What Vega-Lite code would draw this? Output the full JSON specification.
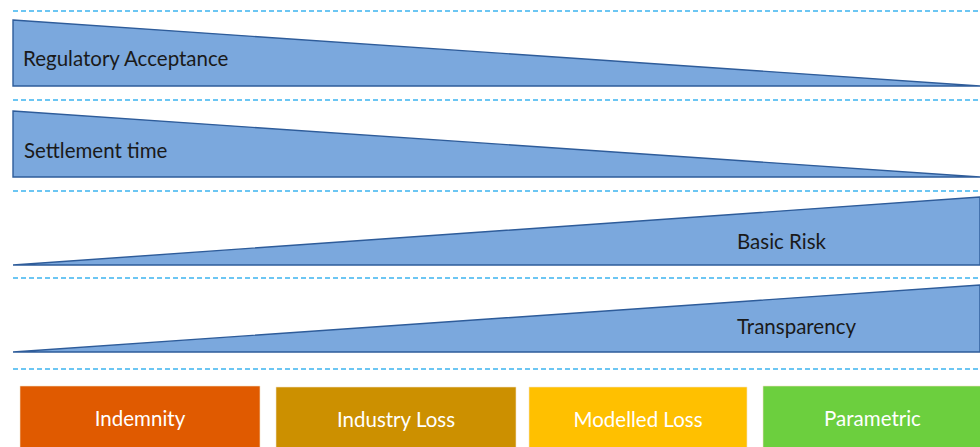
{
  "$schema": "https://vega.github.io/schema/vega-lite/v6.json",
  "width": 980,
  "height": 447,
  "autosize": {"type": "none"},
  "padding": 0,
  "background": "white",
  "config": {"view": {"stroke": null}},
  "datasets": {
    "wedges": [
      {"shape": "Regulatory Acceptance", "x": 13, "top": 20, "bottom": 86},
      {"shape": "Regulatory Acceptance", "x": 980, "top": 86, "bottom": 86},
      {"shape": "Settlement time", "x": 13, "top": 111, "bottom": 177},
      {"shape": "Settlement time", "x": 980, "top": 177, "bottom": 177},
      {"shape": "Basic Risk", "x": 13, "top": 265, "bottom": 265},
      {"shape": "Basic Risk", "x": 980, "top": 197, "bottom": 265},
      {"shape": "Transparency", "x": 13, "top": 352, "bottom": 352},
      {"shape": "Transparency", "x": 980, "top": 285, "bottom": 352}
    ],
    "dashes": [
      {"x": 13, "x2": 980, "y": 11},
      {"x": 13, "x2": 980, "y": 100},
      {"x": 13, "x2": 980, "y": 191},
      {"x": 13, "x2": 980, "y": 278},
      {"x": 13, "x2": 980, "y": 369}
    ],
    "labels": [
      {"label": "Regulatory Acceptance", "x": 23, "y": 58},
      {"label": "Settlement time", "x": 24, "y": 150},
      {"label": "Basic Risk", "x": 737, "y": 241},
      {"label": "Transparency", "x": 737, "y": 326}
    ],
    "boxes": [
      {"name": "Indemnity", "x": 20, "x2": 260, "y": 386, "y2": 450},
      {"name": "Industry Loss", "x": 276, "x2": 516, "y": 387, "y2": 450},
      {"name": "Modelled Loss", "x": 529, "x2": 747, "y": 387, "y2": 450},
      {"name": "Parametric", "x": 763, "x2": 982, "y": 386, "y2": 450}
    ]
  },
  "layer": [
    {
      "data": {"name": "dashes"},
      "mark": {"type": "rule", "stroke": "#3DB4F0", "strokeWidth": 1.5, "strokeDash": [5, 3]},
      "encoding": {
        "x": {"field": "x", "type": "quantitative", "scale": {"domain": [0, 980], "nice": false, "zero": false}, "axis": null},
        "x2": {"field": "x2"},
        "y": {"field": "y", "type": "quantitative", "scale": {"domain": [0, 447], "nice": false, "zero": false, "reverse": true}, "axis": null}
      }
    },
    {
      "data": {"name": "wedges"},
      "mark": {"type": "area", "fill": "#7BA8DD", "fillOpacity": 1, "stroke": "#2E5C9A", "strokeWidth": 1.4, "interpolate": "linear"},
      "encoding": {
        "x": {"field": "x", "type": "quantitative", "axis": null},
        "y": {"field": "top", "type": "quantitative", "axis": null},
        "y2": {"field": "bottom"},
        "detail": {"field": "shape", "type": "nominal"}
      }
    },
    {
      "data": {"name": "labels"},
      "mark": {"type": "text", "align": "left", "baseline": "middle", "font": "Lato", "fontSize": 20.5, "fill": "#1a1a1a", "dy": 2},
      "encoding": {
        "x": {"field": "x", "type": "quantitative", "axis": null},
        "y": {"field": "y", "type": "quantitative", "axis": null},
        "text": {"field": "label"}
      }
    },
    {
      "data": {"name": "boxes"},
      "mark": {"type": "rect", "strokeWidth": 1, "stroke": "#f3e3c8", "strokeOpacity": 0.6},
      "encoding": {
        "x": {"field": "x", "type": "quantitative", "axis": null},
        "x2": {"field": "x2"},
        "y": {"field": "y", "type": "quantitative", "axis": null},
        "y2": {"field": "y2"},
        "color": {
          "field": "name",
          "type": "nominal",
          "scale": {
            "domain": ["Indemnity", "Industry Loss", "Modelled Loss", "Parametric"],
            "range": ["#E05A00", "#CC9000", "#FFC000", "#6CCF3E"]
          },
          "legend": null
        }
      }
    },
    {
      "data": {"name": "boxes"},
      "transform": [{"calculate": "(datum.x + datum.x2) / 2", "as": "cx"}],
      "mark": {"type": "text", "align": "center", "baseline": "middle", "font": "Lato", "fontSize": 20.5, "fill": "white", "dy": 3},
      "encoding": {
        "x": {"field": "cx", "type": "quantitative", "axis": null},
        "y": {"field": "y", "type": "quantitative", "axis": null},
        "text": {"field": "name"},
        "yOffset": {"value": 31}
      }
    }
  ]
}
